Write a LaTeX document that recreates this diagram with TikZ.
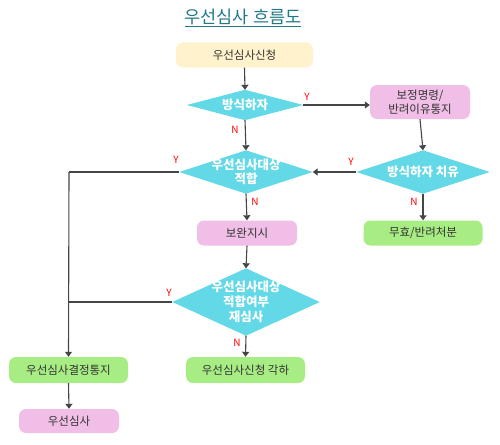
\documentclass[tikz,border=0pt]{standalone}
\usepackage{fontspec}
\setmainfont{Noto Sans CJK KR}
\usetikzlibrary{arrows.meta,backgrounds}
\definecolor{cyanD}{HTML}{63D8E6}
\definecolor{pinkB}{HTML}{F0BEE6}
\definecolor{greenB}{HTML}{A8EC84}
\definecolor{creamB}{HTML}{FFF2CC}
\definecolor{lineC}{HTML}{454545}
\definecolor{titleC}{HTML}{207888}
\begin{document}
\begin{tikzpicture}[x=1pt,y=-1pt,
  box/.style={rounded corners=7pt,minimum height=25pt,inner sep=0pt,align=center,font=\fontsize{11.5}{13}\selectfont,text=black!80},
  dia/.style={rectangle,inner sep=0pt,text=white,align=center,font=\bfseries\fontsize{12.5}{14}\selectfont},
  dfill/.style={fill=cyanD},
  conn/.style={draw=lineC,line width=1.1pt,-{Triangle[length=5pt,width=7pt]}},
  plain/.style={draw=lineC,line width=1.1pt},
  lbl/.style={text=red,font=\fontsize{10}{10}\selectfont,inner sep=0pt}]
\useasboundingbox (0,0) rectangle (500,444);
\node[text=titleC,font=\fontsize{17.5}{19}\selectfont] (title) at (243,18) {\underline{우선심사 흐름도}};
\node[box,fill=creamB,minimum width=137pt] (apply) at (244.5,55) {우선심사신청};
\node[dia,minimum width=116pt,minimum height=30pt] (d1) at (245,105) {방식하자};
\node[box,fill=pinkB,minimum width=100pt,minimum height=34pt,font=\fontsize{11.5}{14}\selectfont] (order) at (420,102) {보정명령/\\반려이유통지};
\node[dia,minimum width=133pt,minimum height=43pt] (d2) at (246,172) {우선심사대상\\적합};
\node[dia,minimum width=133pt,minimum height=43pt] (d3) at (423,172) {방식하자 치유};
\node[box,fill=pinkB,minimum width=100pt] (supp) at (247,233) {보완지시};
\node[box,fill=greenB,minimum width=119pt] (void) at (423,233) {무효/반려처분};
\node[dia,minimum width=147pt,minimum height=67pt,font=\bfseries\fontsize{12.5}{15}\selectfont] (d4) at (246,302) {우선심사대상\\적합여부\\재심사};
\node[box,fill=greenB,minimum width=119pt,minimum height=26pt] (notice) at (68.5,370) {우선심사결정통지};
\node[box,fill=greenB,minimum width=119pt,minimum height=26pt] (reject) at (245.5,370) {우선심사신청 각하};
\node[box,fill=pinkB,minimum width=100pt,minimum height=24pt] (exam) at (69,421) {우선심사};
\begin{scope}[on background layer]
\foreach \d in {d1,d2,d3,d4}
  \fill[dfill] (\d.north) -- (\d.east) -- (\d.south) -- (\d.west) -- cycle;
\end{scope}
\coordinate (jl) at (69,172);
\coordinate (jm) at (69,302);
\draw[conn] (apply.south) -- (d1.north);
\draw[conn] (d1.east) -- (d1.east -| order.west);
\draw[conn] (d1.south) -- (d2.north);
\draw[conn] (order.south) -- (d3.north);
\draw[conn] (d3.west) -- (d2.east);
\draw[conn] (d3.south) -- (void.north);
\draw[conn] (d2.south) -- (supp.north);
\draw[conn] (supp.south) -- (d4.north);
\draw[conn] (d4.south) -- (reject.north);
\draw[plain] (d2.west) -- (jl);
\draw[conn] (jl) -- (notice.north);
\draw[plain] (d4.west) -- (jm);
\draw[conn] (notice.south) -- (exam.north);
\node[lbl] (y1) at (307,97) {Y};
\node[lbl] (n1) at (235,130) {N};
\node[lbl] (y2) at (176,160) {Y};
\node[lbl] (n2) at (255,202) {N};
\node[lbl] (y3) at (351,162) {Y};
\node[lbl] (n3) at (414,202) {N};
\node[lbl] (y4) at (169,293) {Y};
\node[lbl] (n4) at (237,343) {N};
\end{tikzpicture}
\end{document}
